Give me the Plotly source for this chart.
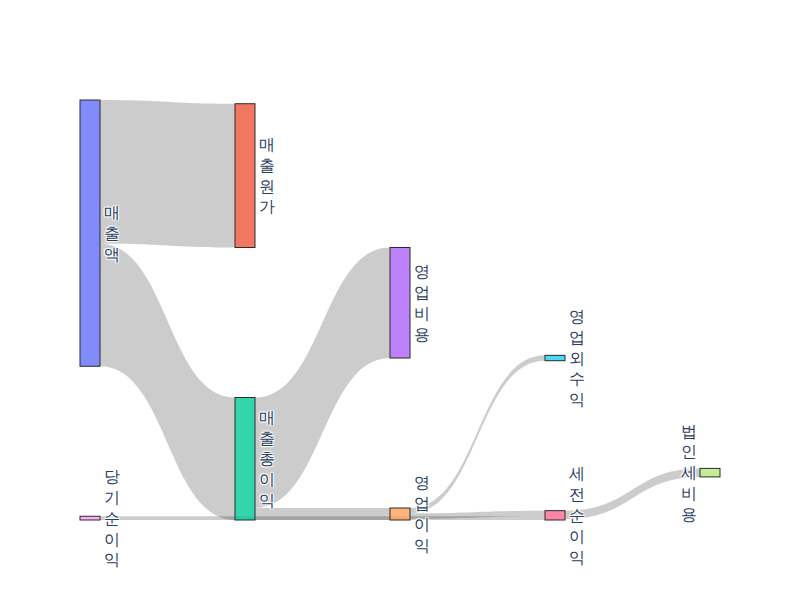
import plotly.graph_objects as go

labels = ["매출액", "매출원가", "매출총이익", "영업비용", "영업이익",
          "영업외수익", "세전순이익", "법인세비용", "당기순이익"]
sources = [0, 0, 2, 2, 4, 4, 6, 8]
targets = [1, 2, 3, 4, 5, 6, 7, 6]
values = [540, 460, 415, 45, 20, 21, 32, 14]

vertical_labels = ["<br>".join(list(s)) for s in labels]

fig = go.Figure(go.Sankey(
    node=dict(label=vertical_labels, pad=150, thickness=20, align="left",
              line=dict(color="#2a2a2a", width=1)),
    link=dict(source=sources, target=targets, value=values),
))
fig.update_layout(width=800, height=600, font=dict(size=16, color="#2a3f5f"))
fig.write_html("out.html")
